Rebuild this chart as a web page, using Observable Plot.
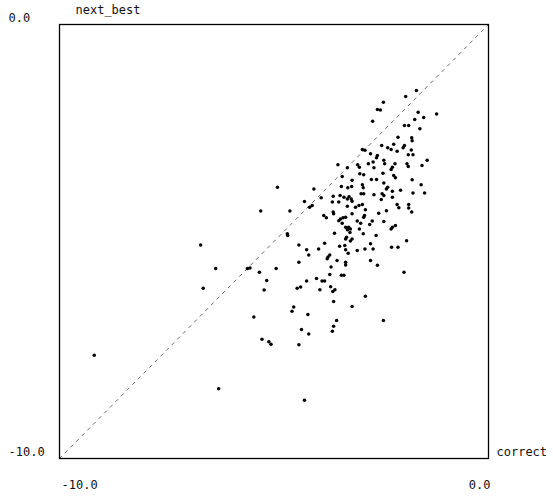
<!DOCTYPE html>
<html>
<head>
<meta charset="utf-8">
<script src="https://cdn.jsdelivr.net/npm/d3@7"></script>
<script src="https://cdn.jsdelivr.net/npm/@observablehq/plot@0.6"></script>
<style>
  html, body { margin: 0; padding: 0; background: #fff; }
</style>
</head>
<body>
<div id="chart"></div>
<script>
const xName = "correct";
const yName = "next_best";
const tickValues = [-10, 0];
const xTickLabels = ["-10.0", "0.0"];
const yTickLabels = ["-10.0", "0.0"];

const correct = [
  -1.68,-1.93,-2.45,-2.59,-2.52,-2.70,-1.64,-1.51,-1.72,-1.21,-1.96,-1.86,-1.60,-2.11,-1.79,
  -1.78,-2.49,-2.21,-2.35,-2.27,-1.96,-1.99,-2.13,-1.80,-2.94,-2.88,-1.87,-1.76,-2.75,-2.59,
  -2.61,-2.44,-2.42,-2.69,-2.80,-3.05,-3.01,-2.67,-1.43,-1.55,-2.18,-1.90,-1.87,-2.24,-2.27,
  -3.51,-3.29,-3.41,-3.00,-2.91,-2.46,-2.21,-2.17,-3.18,-2.73,-2.61,-2.44,-1.78,-1.57,-3.43,
  -3.28,-3.19,-2.94,-2.92,-2.35,-2.38,-2.24,-2.05,-1.76,-1.49,-2.97,-2.91,-2.67,-2.48,-2.44,
  -3.62,-3.37,-3.29,-3.20,-3.25,-3.46,-2.50,-2.24,-4.07,-3.90,
  -4.29,-4.11,-4.17,-4.63,-3.64,-3.49,-3.18,-3.02,-2.94,-3.10,-3.29,-2.87,-3.62,-3.61,-3.84,
  -3.78,-3.18,-2.56,-2.38,-2.13,-1.86,-2.09,-1.86,-1.79,-3.45,-3.39,-3.33,-3.49,-3.41,-2.91,
  -2.89,-3.06,-2.98,-2.71,-2.77,-2.44,-2.17,-2.24,-2.27,-3.33,-3.26,-3.29,-3.22,-3.23,-3.01,
  -2.92,-3.59,-4.69,-4.68,-2.62,-3.31,-3.33,-3.18,-3.22,-1.91,-4.42,-3.82,-3.47,-3.35,-3.33,
  -2.75,-2.69,-2.88,-2.26,-2.11,-4.24,-3.96,-3.06,-4.19,-3.27,-3.70,-3.74,-3.76,-3.53,-3.33,
  -3.33,-2.75,-2.59,-4.42,-3.67,-3.70,-3.43,-3.37,-1.97,
  -4.24,-4.01,-3.88,-3.82,-3.68,-3.58,-3.63,-4.46,-4.38,-3.93,-2.87,-3.61,-3.18,-4.54,-4.58,
  -4.21,-3.54,-3.61,-3.64,-2.45,-4.36,-4.19,-4.42,-4.29,
  -4.92,-5.31,-6.71,-6.36,-5.62,-5.56,-5.34,-4.95,-6.65,-5.17,-5.23,-5.47,-5.28,-5.12,-5.07,
  -9.19,-6.29
];

const nextBest = [
  -1.52,-1.66,-1.79,-1.96,-1.97,-2.23,-2.02,-2.14,-2.19,-2.06,-2.33,-2.33,-2.40,-2.60,-2.61,
  -2.68,-2.79,-2.76,-2.84,-2.88,-2.79,-2.84,-2.92,-2.89,-2.88,-2.90,-3.00,-3.00,-2.98,-3.02,
  -3.07,-3.13,-3.21,-3.17,-3.21,-3.23,-3.29,-3.30,-3.13,-3.25,-3.21,-3.21,-3.27,-3.29,-3.34,
  -3.23,-3.30,-3.50,-3.44,-3.46,-3.43,-3.48,-3.53,-3.59,-3.57,-3.57,-3.65,-3.58,-3.69,-3.73,
  -3.76,-3.73,-3.69,-3.76,-3.75,-3.79,-3.84,-3.82,-3.88,-3.88,-3.90,-3.90,-3.92,-3.90,-3.94,
  -3.96,-3.98,-4.02,-4.02,-3.97,-3.94,-4.03,-3.98,-3.79,-3.99,
  -4.08,-4.17,-4.21,-4.30,-4.09,-4.09,-4.07,-4.17,-4.15,-4.21,-4.19,-4.27,-4.32,-4.36,-4.40,
  -4.45,-4.36,-4.35,-4.29,-4.15,-4.15,-4.22,-4.23,-4.32,-4.48,-4.45,-4.44,-4.52,-4.58,-4.44,
  -4.40,-4.53,-4.58,-4.53,-4.61,-4.54,-4.63,-4.67,-4.71,-4.67,-4.67,-4.73,-4.71,-4.79,-4.71,
  -4.82,-4.81,-4.82,-4.86,-4.86,-4.90,-4.94,-4.94,-4.99,-4.98,-5.08,-5.04,-5.11,-5.09,-5.19,
  -5.05,-5.17,-5.17,-5.13,-5.13,-5.19,-5.17,-5.21,-5.31,-5.27,-5.31,-5.36,-5.40,-5.44,-5.48,
  -5.54,-5.44,-5.55,-5.48,-5.59,-5.76,-5.78,-5.78,-5.71,
  -5.91,-5.85,-5.91,-5.91,-6.04,-6.11,-6.15,-6.08,-6.05,-6.11,-6.26,-6.38,-6.50,-6.51,-6.61,
  -6.68,-6.82,-6.95,-7.07,-6.82,-7.03,-7.13,-7.38,-8.66,
  -3.75,-4.30,-5.08,-5.62,-5.62,-5.61,-5.71,-5.62,-6.08,-5.90,-6.12,-6.74,-7.25,-7.31,-7.37,
  -7.62,-8.39
];

const points = correct.map((c, i) => ({correct: c, next_best: nextBest[i]}));
const diagonal = [{v: -10}, {v: 0}];

const font = "DejaVu Sans Mono";
const fs = 12;

const chart = Plot.plot({
  width: 553,
  height: 498,
  marginLeft: 59,
  marginRight: 65,
  marginTop: 24,
  marginBottom: 40,
  x: {domain: [-10, 0], axis: null},
  y: {domain: [-10, 0], axis: null},
  style: {background: "#fff", overflow: "visible"},
  marks: [
    Plot.line(diagonal, {x: "v", y: "v", stroke: "#444", strokeWidth: 0.8, strokeDasharray: "3,5"}),
    Plot.frame({stroke: "#000", strokeWidth: 1.3}),
    Plot.dot(points, {x: "correct", y: "next_best", r: 1.75, fill: "#000", stroke: "none"}),
    Plot.text(tickValues, {x: -10, y: d => d, text: (d, i) => yTickLabels[i], textAnchor: "start", dx: -51, dy: -6, fontFamily: font, fontSize: fs, fill: "#111"}),
    Plot.text([tickValues[0]], {x: d => d, y: -10, text: () => xTickLabels[0], textAnchor: "start", dx: 2, dy: 27, fontFamily: font, fontSize: fs, fill: "#111"}),
    Plot.text([tickValues[1]], {x: d => d, y: -10, text: () => xTickLabels[1], textAnchor: "end", dx: 2, dy: 27, fontFamily: font, fontSize: fs, fill: "#111"}),
    Plot.text([yName], {x: -10, y: 0, text: d => d, textAnchor: "start", dx: 16, dy: -14, fontFamily: font, fontSize: fs, fill: "#111"}),
    Plot.text([xName], {x: 0, y: -10, text: d => d, textAnchor: "start", dx: 8, dy: -6, fontFamily: font, fontSize: fs, fill: "#111"})
  ]
});
document.getElementById("chart").appendChild(chart);
</script>
</body>
</html>
